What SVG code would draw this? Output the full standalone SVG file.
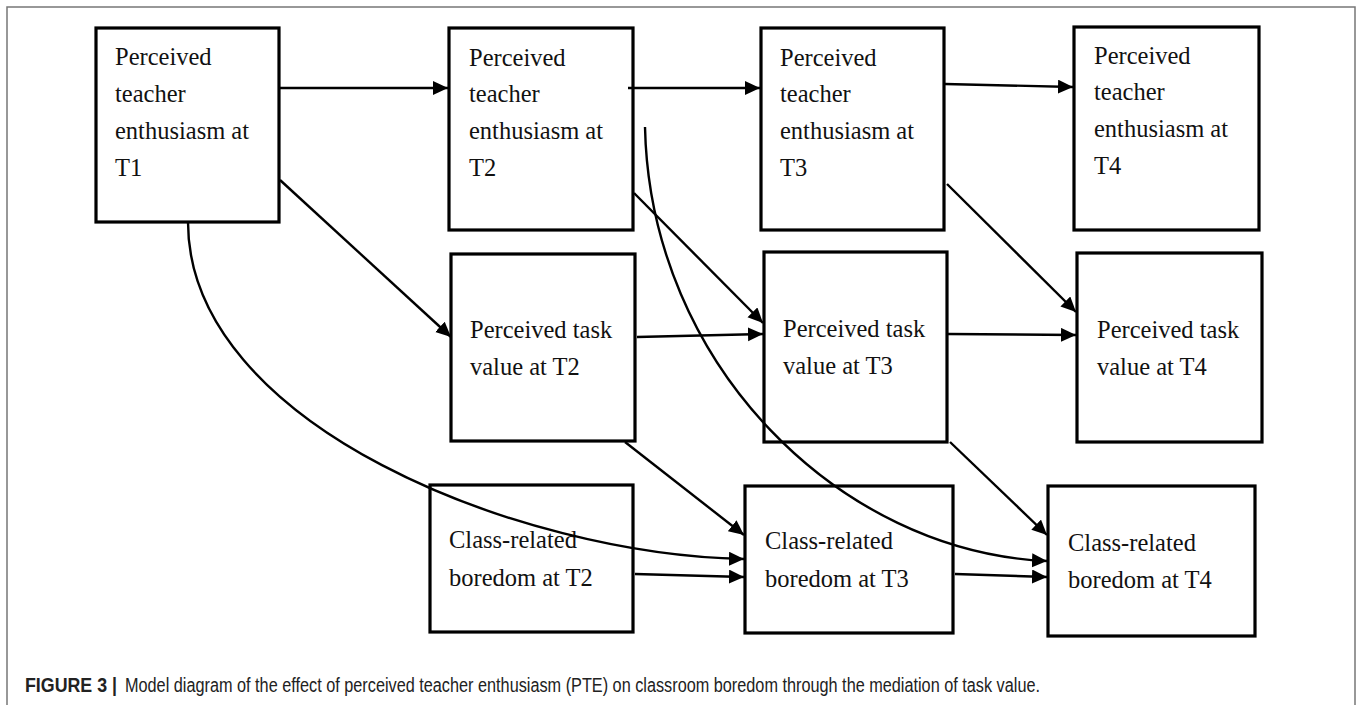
<svg xmlns="http://www.w3.org/2000/svg" width="1360" height="705" viewBox="0 0 1360 705">
<defs>
<style>
.box{fill:#fff;stroke:#000;stroke-width:3.2}
.lbl{font-family:"Liberation Serif","Times New Roman",serif;font-size:24.5px;fill:#111}
.edge{fill:none;stroke:#000;stroke-width:2.4}
.cap{font-family:"Liberation Sans",Arial,sans-serif;font-size:20px;fill:#222}
</style>
<marker id="ah" markerUnits="userSpaceOnUse" markerWidth="16" markerHeight="15" refX="15" refY="7" orient="auto">
<path d="M0,0 L15,7 L0,14 z" fill="#000"/>
</marker>
</defs>
<rect width="1360" height="705" fill="#fff"/>
<path d="M7,706 V7 H1355 V706" fill="none" stroke="#777" stroke-width="1.5"/>

<g id="pte1"><rect class="box" x="96" y="28" width="183" height="194"/>
<text class="lbl"><tspan x="115" y="65">Perceived</tspan><tspan x="115" y="102">teacher</tspan><tspan x="115" y="139">enthusiasm at</tspan><tspan x="115" y="176">T1</tspan></text></g>
<g id="pte2"><rect class="box" x="449" y="28" width="184" height="202"/>
<text class="lbl"><tspan x="469" y="66">Perceived</tspan><tspan x="469" y="102">teacher</tspan><tspan x="469" y="139">enthusiasm at</tspan><tspan x="469" y="176">T2</tspan></text></g>
<g id="pte3"><rect class="box" x="761" y="28" width="183" height="202"/>
<text class="lbl"><tspan x="780" y="66">Perceived</tspan><tspan x="780" y="102">teacher</tspan><tspan x="780" y="139">enthusiasm at</tspan><tspan x="780" y="176">T3</tspan></text></g>
<g id="pte4"><rect class="box" x="1074" y="27" width="185" height="203"/>
<text class="lbl"><tspan x="1094" y="64">Perceived</tspan><tspan x="1094" y="100">teacher</tspan><tspan x="1094" y="137">enthusiasm at</tspan><tspan x="1094" y="174">T4</tspan></text></g>

<g id="tv2"><rect class="box" x="451" y="254" width="184" height="187"/>
<text class="lbl"><tspan x="470" y="338">Perceived task</tspan><tspan x="470" y="375">value at T2</tspan></text></g>
<g id="tv3"><rect class="box" x="764" y="252" width="183" height="190"/>
<text class="lbl"><tspan x="783" y="337">Perceived task</tspan><tspan x="783" y="374">value at T3</tspan></text></g>
<g id="tv4"><rect class="box" x="1077" y="253" width="185" height="189"/>
<text class="lbl"><tspan x="1097" y="338">Perceived task</tspan><tspan x="1097" y="375">value at T4</tspan></text></g>

<g id="bd2"><rect class="box" x="430" y="485" width="203" height="147"/>
<text class="lbl"><tspan x="449" y="548">Class-related</tspan><tspan x="449" y="586">boredom at T2</tspan></text></g>
<g id="bd3"><rect class="box" x="745" y="486" width="208" height="147"/>
<text class="lbl"><tspan x="765" y="549">Class-related</tspan><tspan x="765" y="587">boredom at T3</tspan></text></g>
<g id="bd4"><rect class="box" x="1048" y="486" width="207" height="150"/>
<text class="lbl"><tspan x="1068" y="551">Class-related</tspan><tspan x="1068" y="588">boredom at T4</tspan></text></g>

<g id="connectors">
<path class="edge" marker-end="url(#ah)" d="M279,88 L448,88"/>
<path class="edge" marker-end="url(#ah)" d="M628,88 L760,88"/>
<path class="edge" marker-end="url(#ah)" d="M945,84 L1073,87"/>
<path class="edge" marker-end="url(#ah)" d="M280,180 L451,337"/>
<path class="edge" marker-end="url(#ah)" d="M634,193 L763,323"/>
<path class="edge" marker-end="url(#ah)" d="M947,184 L1076,312"/>
<path class="edge" marker-end="url(#ah)" d="M637,337 L763,334"/>
<path class="edge" marker-end="url(#ah)" d="M948,334 L1076,335"/>
<path class="edge" marker-end="url(#ah)" d="M625,442 L744,535"/>
<path class="edge" marker-end="url(#ah)" d="M950,442 L1047,535"/>
<path class="edge" marker-end="url(#ah)" d="M635,574 L744,577"/>
<path class="edge" marker-end="url(#ah)" d="M955,574 L1047,577"/>
<path class="edge" marker-end="url(#ah)" d="M188,222 C188,425 520,555 744,559"/>
<path class="edge" marker-end="url(#ah)" d="M645,127 C650,365 840,552 1047,561"/>
</g>

<g id="caption">
<text class="cap" x="25" y="692" font-weight="bold" fill="#111" textLength="92" lengthAdjust="spacingAndGlyphs">FIGURE 3 |</text>
<text class="cap" x="125" y="692" textLength="915" lengthAdjust="spacingAndGlyphs">Model diagram of the effect of perceived teacher enthusiasm (PTE) on classroom boredom through the mediation of task value.</text>
</g>
</svg>
